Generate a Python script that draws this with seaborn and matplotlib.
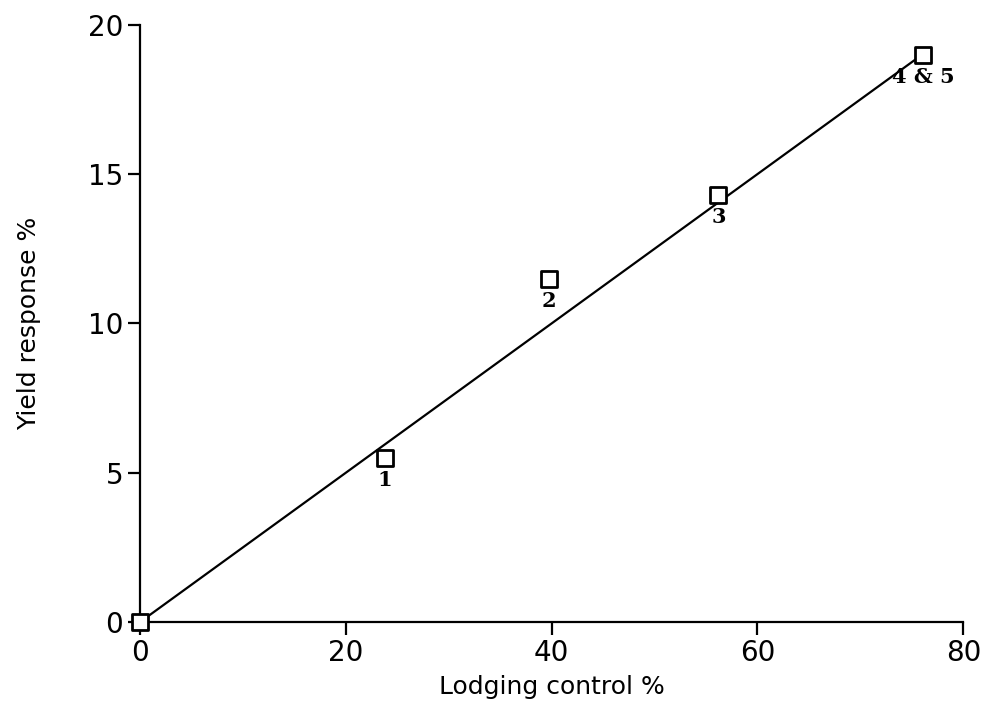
import matplotlib
matplotlib.use("Agg")
import matplotlib.pyplot as plt
import seaborn as sns
import pandas as pd

# treatment points
lodging_control = [0.0, 23.8, 39.7, 56.2, 76.1]
yield_response = [0.0, 5.5, 11.5, 14.3, 19.0]
point_labels = ["", "1", "2", "3", "4 & 5"]

# fitted line (through origin)
line_x = [0.0, 76.0]
line_y = [0.0, 19.0]

x_ticks = [0, 20, 40, 60, 80]
y_ticks = [0, 5, 10, 15, 20]

sns.set_theme(style="ticks")
plt.rcParams['font.family'] = ['DejaVu Sans']
plt.rcParams['text.color'] = 'black'
plt.rcParams['axes.labelcolor'] = 'black'

df = pd.DataFrame({'x': lodging_control, 'y': yield_response, 'label': point_labels})
line_df = pd.DataFrame({'x': line_x, 'y': line_y})

fig = plt.figure(figsize=(9.85, 7.07), dpi=100)
ax = fig.add_axes([0.142, 0.120, 0.836, 0.845])

sns.lineplot(data=line_df, x='x', y='y', ax=ax, color='black', linewidth=1.6)
sns.scatterplot(data=df, x='x', y='y', ax=ax, marker='s', s=130,
                facecolor='white', edgecolor='black', linewidth=2.0, zorder=3)

# point numbers just below each square
for _, row in df.iterrows():
    if row['label']:
        ax.annotate(row['label'], (row['x'], row['y']), xytext=(0, -16),
                    textcoords='offset points', ha='center', va='center',
                    fontsize=15, fontweight='bold', family='DejaVu Serif',
                    color='black')

ax.set_xlim(0, 80)
ax.set_ylim(0, 20)
ax.set_xticks(x_ticks)
ax.set_yticks(y_ticks)
ax.tick_params(direction='out', length=9, width=1.6, labelsize=20, colors='black', pad=3)
sns.despine(ax=ax)
for side in ['left', 'bottom']:
    ax.spines[side].set_linewidth(1.6)
    ax.spines[side].set_color('black')

ax.set_xlabel("Lodging control %", fontsize=18, labelpad=6)
ax.set_ylabel("Yield response %", fontsize=18, labelpad=34)
for coll in ax.collections:
    coll.set_clip_on(False)

fig.savefig("out.png", dpi=100, facecolor='white')
